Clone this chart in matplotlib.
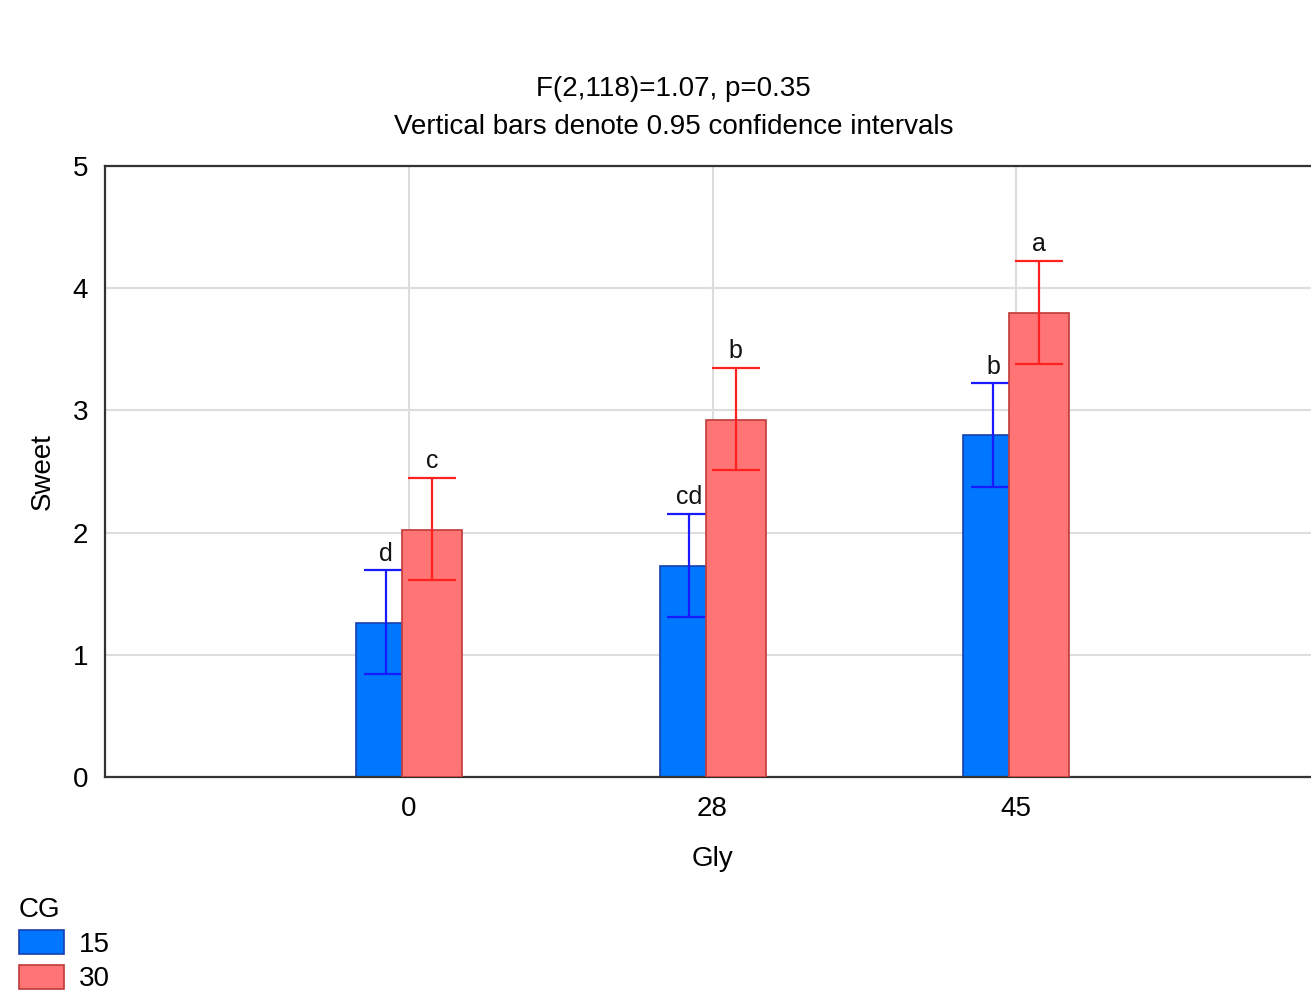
import matplotlib
matplotlib.use("Agg")
import matplotlib.pyplot as plt
from matplotlib.patches import Patch
import numpy as np

plt.rcParams['font.family'] = ['Liberation Sans', 'DejaVu Sans']

categories = ['0', '28', '45']
series_names = ['15', '30']
means_15 = [1.26, 1.73, 2.80]
lower_15 = [0.84, 1.31, 2.37]
upper_15 = [1.69, 2.15, 3.22]
means_30 = [2.02, 2.92, 3.80]
lower_30 = [1.61, 2.51, 3.38]
upper_30 = [2.45, 3.35, 4.22]
letters_15 = ['d', 'cd', 'b']
letters_30 = ['c', 'b', 'a']

fig = plt.figure(figsize=(13.11, 9.90), dpi=100)
ax = fig.add_axes([0.0801, 0.2152, 0.9268, 0.6172])

x = np.arange(1, len(categories) + 1)
w = 0.197
off = 0.076
blue_face = '#0077ff'
blue_edge = '#1a3fb0'
red_face = '#ff7474'
red_edge = '#c03a3a'

# series 15
ax.bar(x - off, means_15, width=w, color=blue_face, edgecolor=blue_edge, linewidth=1.2, zorder=2)
err15 = [np.array(means_15) - np.array(lower_15), np.array(upper_15) - np.array(means_15)]
ax.errorbar(x - off, means_15, yerr=err15, fmt='none', ecolor='#1a1aff', elinewidth=1.6,
            capsize=16, capthick=1.6, zorder=3)
# series 30
ax.bar(x + off, means_30, width=w, color=red_face, edgecolor=red_edge, linewidth=1.2, zorder=4)
err30 = [np.array(means_30) - np.array(lower_30), np.array(upper_30) - np.array(means_30)]
ax.errorbar(x + off, means_30, yerr=err30, fmt='none', ecolor='#ff2020', elinewidth=1.6,
            capsize=17, capthick=1.6, zorder=5)

for xi, u, t in zip(x - off, upper_15, letters_15):
    ax.text(xi, u + 0.04, t, ha='center', va='bottom', fontsize=18, color='#111111', zorder=6)
for xi, u, t in zip(x + off, upper_30, letters_30):
    ax.text(xi, u + 0.04, t, ha='center', va='bottom', fontsize=18, color='#111111', zorder=6)

ax.set_xlim(0, 4)
ax.set_ylim(0, 5)
ax.set_xticks(x)
ax.set_xticklabels(categories, fontsize=20)
ax.set_yticks(range(0, 6))
ax.set_yticklabels([str(i) for i in range(0, 6)], fontsize=20)
ax.tick_params(axis='x', length=0, pad=14)
ax.tick_params(axis='y', length=0, pad=12)
ax.grid(True, color='#dddddd', linewidth=1.5, zorder=0)
ax.set_axisbelow(True)
for s in ax.spines.values():
    s.set_color('#333333')
    s.set_linewidth(1.6)

ax.set_xlabel('Gly', fontsize=20, labelpad=17)
ax.set_ylabel('Sweet', fontsize=20, labelpad=12)

fig.text(0.5137, 1 - 89 / 990, 'F(2,118)=1.07, p=0.35', ha='center', va='center', fontsize=20)
fig.text(0.5137, 1 - 127 / 990, 'Vertical bars denote 0.95 confidence intervals', ha='center', va='center', fontsize=20)

handles = [Patch(facecolor=blue_face, edgecolor=blue_edge, linewidth=1.2),
           Patch(facecolor=red_face, edgecolor=red_edge, linewidth=1.2)]
leg = fig.legend(handles, series_names, title='CG', loc='lower left', bbox_to_anchor=(0.010, -0.008),
                 frameon=False, fontsize=20, title_fontsize=20, handlelength=1.62, handleheight=0.95,
                 labelspacing=0.25, handletextpad=0.55, borderpad=0.2, borderaxespad=0.0)
leg._legend_box.align = 'left'

fig.savefig('out.png', dpi=100)
